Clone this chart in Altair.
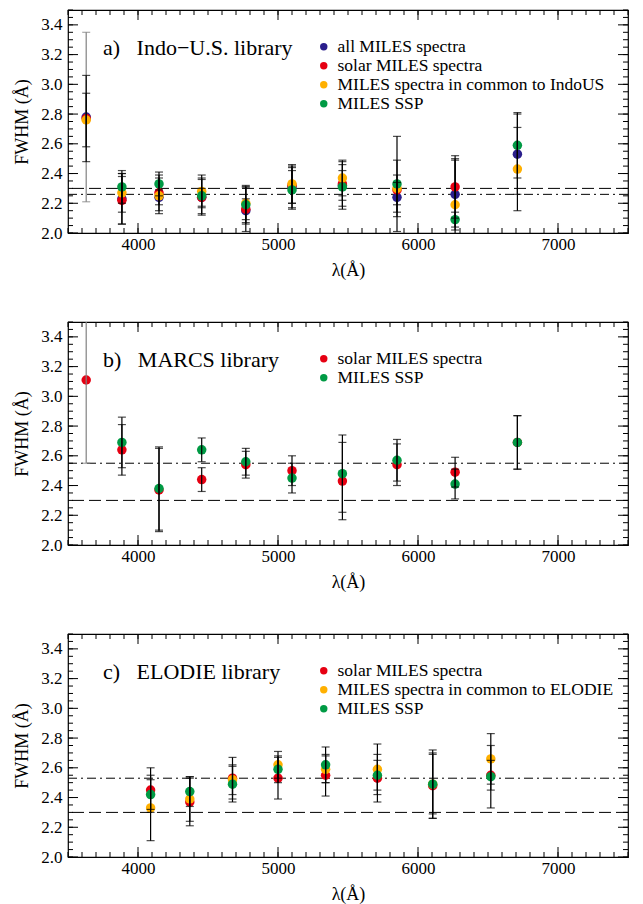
import altair as alt
import pandas as pd

# ---------------- data ----------------
wavelengths_ab = [3630, 3885, 4150, 4455, 4770, 5100, 5460, 5850, 6265, 6710]
wavelengths_c = [4090, 4370, 4675, 5000, 5340, 5710, 6105, 6520]

# panel a) Indo-U.S.
a_all = [2.78, 2.23, 2.24, 2.24, 2.15, 2.31, 2.32, 2.24, 2.26, 2.53]
a_all_err = [0.57, 0.17, 0.05, 0.06, 0.08, 0.14, 0.10, 0.10, 0.24, 0.27]
a_solar = [2.77, 2.22, 2.27, 2.24, 2.16, 2.32, 2.33, 2.29, 2.31, None]
a_solar_err = [0.29, 0.16, 0.12, 0.12, 0.15, 0.12, 0.15, 0.10, 0.21, None]
a_common = [2.76, 2.27, 2.25, 2.28, 2.20, 2.33, 2.37, 2.30, 2.19, 2.43]
a_common_err = [0.18, 0.13, 0.12, 0.11, 0.11, 0.13, 0.12, 0.19, 0.30, 0.28]
a_ssp = [None, 2.31, 2.33, 2.25, 2.19, 2.29, 2.31, 2.33, 2.09, 2.59]
a_ssp_err = [None, 0.11, 0.08, 0.12, 0.13, 0.13, 0.15, 0.32, 0.05, 0.22]

# panel b) MARCS
b_solar = [3.11, 2.64, 2.37, 2.44, 2.54, 2.50, 2.43, 2.54, 2.49, 2.69]
b_solar_err = [0.56, 0.17, 0.28, 0.08, 0.09, 0.10, 0.26, 0.14, 0.10, 0.18]
b_ssp = [None, 2.69, 2.38, 2.64, 2.56, 2.45, 2.48, 2.57, 2.41, 2.69]
b_ssp_err = [None, 0.17, 0.28, 0.08, 0.09, 0.10, 0.26, 0.14, 0.10, 0.18]

# panel c) ELODIE
c_solar = [2.45, 2.37, 2.53, 2.53, 2.55, 2.53, 2.48, 2.55]
c_solar_err = [0.15, 0.16, 0.14, 0.14, 0.14, 0.16, 0.22, 0.10]
c_common = [2.33, 2.39, 2.52, 2.62, 2.59, 2.59, 2.49, 2.66]
c_common_err = [0.22, 0.15, 0.10, 0.09, 0.09, 0.17, 0.20, 0.17]
c_ssp = [2.42, 2.44, 2.49, 2.59, 2.62, 2.55, 2.49, 2.54]
c_ssp_err = [0.10, 0.10, 0.12, 0.09, 0.12, 0.10, 0.23, 0.21]

series_a = ["all MILES spectra", "solar MILES spectra",
            "MILES spectra in common to IndoUS", "MILES SSP"]
series_b = ["solar MILES spectra", "MILES SSP"]
series_c = ["solar MILES spectra", "MILES spectra in common to ELODIE", "MILES SSP"]
colors_a = ["#2a1e8c", "#e60012", "#ffb000", "#009a44"]
colors_b = ["#e60012", "#009a44"]
colors_c = ["#e60012", "#ffb000", "#009a44"]

panel_labels = ["a)\u00a0\u00a0\u00a0Indo\u2212U.S. library",
                "b)\u00a0\u00a0\u00a0MARCS library",
                "c)\u00a0\u00a0\u00a0ELODIE library"]
ref_fwhm = [2.30, 2.30, 2.30]      # dashed lines
mean_fwhm = [2.26, 2.55, 2.53]     # dash-dot lines
grey_bars = [("a", "all MILES spectra", 3630), ("b", "solar MILES spectra", 3630)]

x_tick_labels = [4000, 5000, 6000, 7000]
y_tick_labels = [2.0, 2.2, 2.4, 2.6, 2.8, 3.0, 3.2, 3.4]
x_minor = list(range(3500, 7501, 100))
y_minor = [round(2.0 + 0.05 * i, 2) for i in range(31)]

# ---------------- styling ----------------
W, H = 560, 223
FONT = "Liberation Serif"
XTITLE = "\u03bb(\u00c5)"
YTITLE = "FWHM (\u00c5)"
xscale = alt.Scale(domain=[3500, 7500], nice=False, zero=False)
yscale = alt.Scale(domain=[2.0, 3.5], nice=False, zero=False)
xaxis = alt.Axis(values=x_tick_labels, format="d", ticks=False, domain=False, grid=False,
                 labelFont=FONT, labelFontSize=17, labelColor="black", labelPadding=3,
                 titleFont=FONT, titleFontSize=18, titleFontWeight="normal", titleColor="black",
                 titleBaseline="middle", titleY=37)
yaxis = alt.Axis(values=y_tick_labels, format=".1f", ticks=False, domain=False, grid=False,
                 labelFont=FONT, labelFontSize=17, labelColor="black", labelPadding=6,
                 titleFont=FONT, titleFontSize=18, titleFontWeight="normal", titleColor="black",
                 titleAngle=270, titleBaseline="middle", titleAlign="center",
                 titleX=-46, titleY=H / 2)


def X(f):
    return alt.X(f, scale=xscale, axis=xaxis, title=XTITLE)


def Y(f):
    return alt.Y(f, scale=yscale, axis=yaxis, title=YTITLE)


def make_df(panel, wl, names, values, errors):
    rows = []
    for name, vals, errs in zip(names, values, errors):
        for w, v, e in zip(wl, vals, errs):
            if v is None:
                continue
            rows.append(dict(series=name, wl=w, fwhm=v, lo=v - e, hi=v + e,
                             grey=(panel, name, w) in grey_bars))
    return pd.DataFrame(rows)


def ticks_layers():
    ymaj = alt.Chart(pd.DataFrame({"v": y_tick_labels}))
    ymin = alt.Chart(pd.DataFrame({"v": y_minor}))
    xmaj = alt.Chart(pd.DataFrame({"v": x_tick_labels}))
    xmin = alt.Chart(pd.DataFrame({"v": x_minor}))
    layers = []
    for src, L in ((ymaj, 10), (ymin, 5)):
        layers.append(src.mark_rule(color="black", strokeWidth=1).encode(
            y=Y("v:Q"), x=alt.value(0), x2=alt.value(L)))
        layers.append(src.mark_rule(color="black", strokeWidth=1).encode(
            y=Y("v:Q"), x=alt.value(W - L), x2=alt.value(W)))
    for src, L in ((xmaj, 10), (xmin, 5)):
        layers.append(src.mark_rule(color="black", strokeWidth=1).encode(
            x=X("v:Q"), y=alt.value(H), y2=alt.value(H - L)))
        layers.append(src.mark_rule(color="black", strokeWidth=1).encode(
            x=X("v:Q"), y=alt.value(0), y2=alt.value(L)))
    return layers


def panel(key, df, names, colors, label, ref, mean):
    base = alt.Chart(df)
    hl1 = alt.Chart(pd.DataFrame({"v": [ref]})).mark_rule(
        color="black", strokeWidth=1, strokeDash=[12, 5]).encode(y=Y("v:Q"))
    hl2 = alt.Chart(pd.DataFrame({"v": [mean]})).mark_rule(
        color="black", strokeWidth=1, strokeDash=[9, 4, 2, 4]).encode(y=Y("v:Q"))
    dots = base.mark_circle(size=90, opacity=1).encode(
        x=X("wl:Q"), y=Y("fwhm:Q"),
        color=alt.Color("series:N", sort=names,
                        scale=alt.Scale(domain=names, range=colors),
                        legend=alt.Legend(title=None, orient="none", legendX=247, legendY=28,
                                          symbolType="circle", symbolSize=55,
                                          symbolStrokeWidth=0, symbolOpacity=1,
                                          labelFont=FONT, labelFontSize=17.5,
                                          labelColor="black", labelLimit=500,
                                          rowPadding=0, labelOffset=5, padding=0)))
    err_grey = base.transform_filter("datum.grey").mark_errorbar(
        color="#808080", thickness=1.2, size=8, ticks=True, clip=True).encode(
        x=X("wl:Q"), y=Y("lo:Q"), y2="hi:Q")
    err_black = base.transform_filter("!datum.grey").mark_errorbar(
        color="black", thickness=1.2, size=8, ticks=True, clip=True).encode(
        x=X("wl:Q"), y=Y("lo:Q"), y2="hi:Q")
    txt = alt.Chart(pd.DataFrame({"t": [label]})).mark_text(
        align="left", baseline="middle", font=FONT, fontSize=22, color="black").encode(
        text="t:N", x=alt.value(35), y=alt.value(38))
    layers = [hl1, hl2, dots, err_grey, err_black] + ticks_layers() + [txt]
    return alt.layer(*layers).properties(width=W, height=H)


df_a = make_df("a", wavelengths_ab, series_a,
               [a_all, a_solar, a_common, a_ssp],
               [a_all_err, a_solar_err, a_common_err, a_ssp_err])
df_b = make_df("b", wavelengths_ab, series_b, [b_solar, b_ssp], [b_solar_err, b_ssp_err])
df_c = make_df("c", wavelengths_c, series_c,
               [c_solar, c_common, c_ssp], [c_solar_err, c_common_err, c_ssp_err])

pa = panel("a", df_a, series_a, colors_a, panel_labels[0], ref_fwhm[0], mean_fwhm[0])
pb = panel("b", df_b, series_b, colors_b, panel_labels[1], ref_fwhm[1], mean_fwhm[1])
pc = panel("c", df_c, series_c, colors_c, panel_labels[2], ref_fwhm[2], mean_fwhm[2])

chart = alt.vconcat(pa, pb, pc, spacing=89, bounds="flush").resolve_scale(
    color="independent").configure_view(stroke="black", strokeWidth=1.2).properties(
    padding={"left": 4, "top": 0, "right": 0, "bottom": 0}, background="white")

chart.save("out.html", embed_options={"renderer": "svg", "actions": False})
